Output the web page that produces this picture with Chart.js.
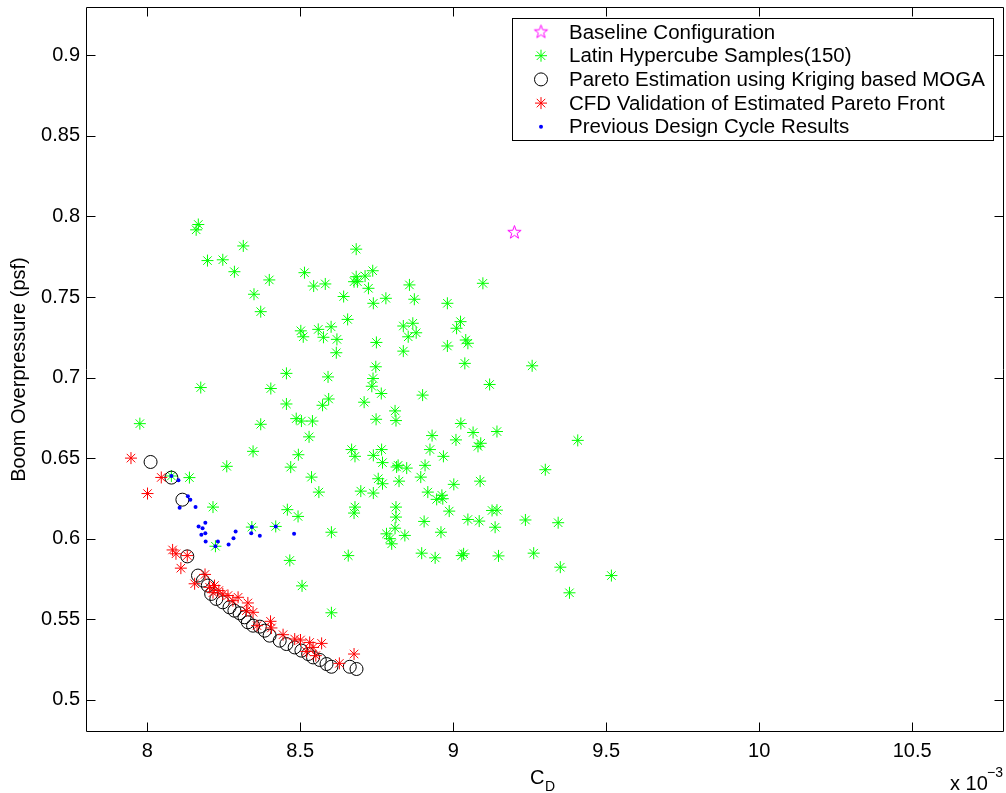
<!DOCTYPE html>
<html>
<head>
<meta charset="utf-8">
<script src="https://cdn.jsdelivr.net/npm/chart.js@4.4.0/dist/chart.umd.min.js"></script>
<style>
  body { margin: 0; background: #fff; }
</style>
</head>
<body>
<canvas id="myChart" width="1006" height="793"></canvas>
<script>
// drag coefficient values are in units of 1e-3 (axis shows "x 10^-3")
const baselineCd = [9.2];
const baselineBoom = [0.79];

const lhsCd = [
  8.167, 8.160, 8.314, 8.197, 8.247, 8.285, 8.399, 8.514, 8.544, 8.582,
  8.642, 8.349, 8.371, 8.655, 8.502, 8.510, 8.559, 8.601, 8.576, 8.620,
  8.618, 8.175, 8.455, 8.404, 8.591, 8.455, 8.593, 8.573, 8.371, 8.487,
  8.504, 8.540, 8.683, 8.683, 8.687, 8.712, 8.737, 8.723, 8.676, 8.739,
  8.780, 8.857, 8.873, 8.981, 9.097, 8.749, 8.837, 8.868, 8.853, 8.879,
  8.837, 9.024, 9.011, 9.041, 9.048, 8.981, 9.038, 8.747, 8.738, 8.734,
  8.765, 8.900, 8.709, 8.810, 8.813, 8.748, 8.529, 9.025, 9.065, 8.931,
  9.009, 9.143, 9.081, 9.090, 8.668, 8.679, 8.739, 8.766, 8.769, 8.815,
  8.820, 8.848, 8.924, 8.968, 8.908, 8.894, 9.088, 9.002, 8.755, 8.769,
  8.823, 8.698, 8.739, 8.917, 8.946, 8.963, 8.966, 8.987, 8.679, 8.676,
  8.813, 8.813, 9.127, 9.143, 9.048, 9.085, 9.236, 8.905, 8.810, 8.782,
  8.793, 8.799, 8.842, 8.960, 9.137, 8.602, 8.897, 8.941, 9.028, 9.034,
  9.148, 8.657, 9.258, 9.119, 9.407, 9.301, 9.343, 9.263, 9.350, 9.517,
  9.380, 7.976, 8.346, 8.494, 8.469, 8.537, 8.561, 8.260, 8.138, 8.215,
  8.342, 8.420, 8.223, 8.458, 8.493, 8.466, 8.506, 8.079, 8.602
];
const lhsBoom = [
  0.795, 0.7917, 0.7817, 0.7726, 0.7731, 0.7657, 0.7606, 0.7651, 0.7568, 0.7581,
  0.7503, 0.7517, 0.7409, 0.7361, 0.729, 0.7253, 0.7299, 0.7315, 0.725, 0.7237,
  0.7154, 0.6938, 0.7026, 0.6932, 0.7004, 0.6836, 0.6867, 0.6828, 0.671, 0.6745,
  0.673, 0.673, 0.7797, 0.7626, 0.7595, 0.763, 0.7663, 0.7554, 0.7595, 0.7461,
  0.7492, 0.7575, 0.7486, 0.7461, 0.7585, 0.7218, 0.732, 0.7337, 0.7253, 0.7278,
  0.7164, 0.7347, 0.7306, 0.7233, 0.7213, 0.7196, 0.7088, 0.7067, 0.6994, 0.6946,
  0.6901, 0.6891, 0.6847, 0.6793, 0.6733, 0.6741, 0.6632, 0.6715, 0.6659, 0.664,
  0.6613, 0.6665, 0.6573, 0.6592, 0.6553, 0.6511, 0.6517, 0.6553, 0.6472, 0.6445,
  0.6455, 0.6438, 0.6553, 0.6511, 0.6455, 0.6382, 0.6357, 0.6337, 0.6372, 0.6341,
  0.6357, 0.6295, 0.6283, 0.6289, 0.6244, 0.6269, 0.6248, 0.6171, 0.6196, 0.6159,
  0.6196, 0.6134, 0.6175, 0.6177, 0.6119, 0.6109, 0.6116, 0.6107, 0.6065, 0.603,
  0.6, 0.5968, 0.602, 0.604, 0.6071, 0.604, 0.591, 0.5881, 0.5895, 0.5906,
  0.5893, 0.5895, 0.7073, 0.6957, 0.661, 0.6428, 0.6099, 0.591, 0.5823, 0.5771,
  0.5664, 0.6714, 0.6542, 0.6521, 0.6444, 0.6382, 0.6289, 0.6449, 0.6379, 0.6196,
  0.6072, 0.6076, 0.5953, 0.618, 0.6138, 0.5865, 0.5707, 0.6389, 0.554
];

const paretoCd = [
  8.011, 8.079, 8.115, 8.131, 8.166, 8.182, 8.198, 8.209, 8.226, 8.247,
  8.269, 8.285, 8.302, 8.318, 8.329, 8.346, 8.368, 8.384, 8.400, 8.433,
  8.455, 8.482, 8.504, 8.526, 8.542, 8.564, 8.586, 8.602, 8.662, 8.684
];
const paretoBoom = [
  0.6476, 0.6379, 0.6242, 0.589, 0.5771, 0.574, 0.5709, 0.5657, 0.5626, 0.5605,
  0.5574, 0.5553, 0.5537, 0.5512, 0.5481, 0.546, 0.5454, 0.5429, 0.5398, 0.5367,
  0.5346, 0.5325, 0.5305, 0.5284, 0.5263, 0.5247, 0.5222, 0.5205, 0.5205, 0.5191
];

const cfdCd = [
  7.947, 8.046, 8.001, 8.083, 8.094, 8.131, 8.110, 8.189, 8.155, 8.204,
  8.220, 8.234, 8.247, 8.264, 8.297, 8.329, 8.324, 8.346, 8.359, 8.403,
  8.406, 8.444, 8.482, 8.501, 8.531, 8.542, 8.520, 8.551, 8.628, 8.676,
  8.215, 8.280, 8.570
];
const cfdBoom = [
  0.650, 0.638, 0.628, 0.593, 0.5906, 0.5895, 0.5817, 0.5778, 0.572, 0.5698,
  0.5709, 0.5678, 0.5657, 0.5647, 0.5636, 0.5601, 0.5553, 0.5543, 0.546, 0.5487,
  0.5446, 0.5404, 0.5377, 0.5371, 0.5356, 0.5325, 0.530, 0.5274, 0.5226, 0.5284,
  0.5665, 0.5615, 0.535
];

const prevCd = [
  8.079, 8.102, 8.133, 8.141, 8.106, 8.158, 8.190, 8.168, 8.181, 8.190,
  8.177, 8.191, 8.231, 8.223, 8.266, 8.282, 8.289, 8.342, 8.340, 8.368,
  8.420, 8.480
];
const prevBoom = [
  0.6389, 0.6362, 0.6264, 0.6242, 0.6192, 0.6196, 0.6099, 0.6076, 0.6065, 0.6034,
  0.6024, 0.5982, 0.5982, 0.5953, 0.5964, 0.6003, 0.6045, 0.6072, 0.6034, 0.6018,
  0.6076, 0.603
];

const xTicks = [8, 8.5, 9, 9.5, 10, 10.5];
const xTickLabels = ['8', '8.5', '9', '9.5', '10', '10.5'];
const yTicks = [0.5, 0.55, 0.6, 0.65, 0.7, 0.75, 0.8, 0.85, 0.9];
const yTickLabels = ['0.5', '0.55', '0.6', '0.65', '0.7', '0.75', '0.8', '0.85', '0.9'];

const seriesNames = [
  'Baseline Configuration',
  'Latin Hypercube Samples(150)',
  'Pareto Estimation using Kriging based MOGA',
  'CFD Validation of Estimated Pareto Front',
  'Previous Design Cycle Results'
];

const FONT = '"Liberation Sans", Arial, Helvetica, sans-serif';

function pts(xs, ys) {
  return xs.map((v, i) => ({ x: v, y: ys[i] }));
}

// MATLAB-like outlined pentagram marker
function makePentagram(r, color) {
  const s = Math.ceil(r * 2 + 3);
  const c = document.createElement('canvas');
  c.width = s; c.height = s;
  const g = c.getContext('2d');
  g.strokeStyle = color;
  g.lineWidth = 1;
  g.beginPath();
  for (let i = 0; i < 10; i++) {
    const a = -Math.PI / 2 + i * Math.PI / 5;
    const rr = i % 2 === 0 ? r : r * 0.4;
    const px = s / 2 + rr * Math.cos(a), py = s / 2 + rr * Math.sin(a);
    if (i === 0) g.moveTo(px, py); else g.lineTo(px, py);
  }
  g.closePath();
  g.stroke();
  return c;
}
const pentagram = makePentagram(7, '#ff00ff');

const markers = [
  { style: pentagram, color: '#ff00ff', radius: 7 },
  { style: 'star', color: '#00ff00', radius: 6 },
  { style: 'circle', color: '#000000', radius: 6.5 },
  { style: 'star', color: '#ff0000', radius: 6 },
  { style: 'dot', color: '#0000ff', radius: 2 }
];

function drawMarker(ctx, m, x, y) {
  ctx.save();
  ctx.strokeStyle = m.color;
  ctx.fillStyle = m.color;
  ctx.lineWidth = 1;
  if (m.style === 'star') {
    const r = m.radius, d = r * Math.SQRT1_2;
    ctx.beginPath();
    ctx.moveTo(x - r, y); ctx.lineTo(x + r, y);
    ctx.moveTo(x, y - r); ctx.lineTo(x, y + r);
    ctx.moveTo(x - d, y - d); ctx.lineTo(x + d, y + d);
    ctx.moveTo(x - d, y + d); ctx.lineTo(x + d, y - d);
    ctx.stroke();
  } else if (m.style === 'circle') {
    ctx.beginPath();
    ctx.arc(x, y, m.radius, 0, Math.PI * 2);
    ctx.stroke();
  } else if (m.style === 'dot') {
    ctx.beginPath();
    ctx.arc(x, y, m.radius, 0, Math.PI * 2);
    ctx.fill();
  } else {
    ctx.drawImage(m.style, x - m.style.width / 2, y - m.style.height / 2);
  }
  ctx.restore();
}

// box, inward ticks on all four sides, axis titles, exponent and legend
const matlabFrame = {
  id: 'matlabFrame',
  afterDraw(chart) {
    const { ctx, chartArea: a, scales } = chart;
    const L = a.left + 0.5, R = a.right - 0.5, T = a.top + 0.5, B = a.bottom - 0.5;
    ctx.save();
    ctx.strokeStyle = '#000';
    ctx.lineWidth = 1;
    ctx.beginPath();
    ctx.rect(L, T, R - L, B - T);
    xTicks.forEach(v => {
      const px = Math.round(scales.x.getPixelForValue(v)) + 0.5;
      ctx.moveTo(px, B); ctx.lineTo(px, B - 9);
      ctx.moveTo(px, T); ctx.lineTo(px, T + 9);
    });
    yTicks.forEach(v => {
      const py = Math.round(scales.y.getPixelForValue(v)) + 0.5;
      ctx.moveTo(L, py); ctx.lineTo(L + 9, py);
      ctx.moveTo(R, py); ctx.lineTo(R - 9, py);
    });
    ctx.stroke();

    ctx.fillStyle = '#000';
    // y title
    ctx.save();
    ctx.translate(19, (a.top + a.bottom) / 2);
    ctx.rotate(-Math.PI / 2);
    ctx.font = '20px ' + FONT;
    ctx.textAlign = 'center';
    ctx.textBaseline = 'middle';
    ctx.fillText('Boom Overpressure (psf)', 0, 0);
    ctx.restore();

    // x title C_D
    ctx.textAlign = 'left';
    ctx.textBaseline = 'alphabetic';
    ctx.font = '20px ' + FONT;
    ctx.fillText('C', 530, 784);
    ctx.font = '14px ' + FONT;
    ctx.fillText('D', 545, 791);

    // exponent label
    ctx.font = '20px ' + FONT;
    ctx.fillText('x 10', 950, 790);
    ctx.font = '14px ' + FONT;
    ctx.fillText('\u22123', 987, 777);

    // legend
    const lx = 512.5, ly = 18.5, lw = 481, lh = 122;
    ctx.fillStyle = '#fff';
    ctx.fillRect(lx, ly, lw, lh);
    ctx.strokeRect(lx, ly, lw, lh);
    ctx.font = '20.5px ' + FONT;
    ctx.textBaseline = 'middle';
    seriesNames.forEach((name, i) => {
      const y = 32 + i * 23.7;
      drawMarker(ctx, markers[i], 541, y);
      ctx.fillStyle = '#000';
      ctx.fillText(name, 569, y + 1);
    });
    ctx.restore();
  }
};

const ctx = document.getElementById('myChart').getContext('2d');
const myChart = new Chart(ctx, {
  type: 'scatter',
  data: {
    datasets: [
      {
        label: seriesNames[4],
        data: pts(prevCd, prevBoom),
        pointStyle: 'circle',
        pointRadius: 2,
        backgroundColor: '#0000ff',
        borderColor: '#0000ff',
        borderWidth: 0,
        order: 1
      },
      {
        label: seriesNames[3],
        data: pts(cfdCd, cfdBoom),
        pointStyle: 'star',
        pointRadius: 6,
        borderColor: '#ff0000',
        borderWidth: 1,
        order: 2
      },
      {
        label: seriesNames[2],
        data: pts(paretoCd, paretoBoom),
        pointStyle: 'circle',
        pointRadius: 6.5,
        backgroundColor: 'rgba(0,0,0,0)',
        borderColor: '#000000',
        borderWidth: 1,
        order: 3
      },
      {
        label: seriesNames[1],
        data: pts(lhsCd, lhsBoom),
        pointStyle: 'star',
        pointRadius: 6,
        borderColor: '#00ff00',
        borderWidth: 1,
        order: 4
      },
      {
        label: seriesNames[0],
        data: pts(baselineCd, baselineBoom),
        pointStyle: pentagram,
        pointRadius: 7,
        borderColor: '#ff00ff',
        order: 5
      }
    ]
  },
  options: {
    responsive: false,
    animation: false,
    events: [],
    // autoPadding would reserve room for marker overflow and shrink the axes box
    layout: { autoPadding: false, padding: { top: 7, right: 2, left: 0, bottom: 0 } },
    plugins: {
      legend: { display: false },
      tooltip: { enabled: false }
    },
    scales: {
      x: {
        type: 'linear',
        min: 7.8,
        max: 10.8,
        afterBuildTicks: scale => { scale.ticks = xTicks.map(v => ({ value: v })); },
        afterFit: scale => {
          scale.height = 61;
          scale.paddingLeft = 0;
          scale.paddingRight = 0;
        },
        grid: { display: false, drawTicks: false },
        border: { display: false },
        ticks: {
          color: '#000',
          font: { size: 20, family: FONT },
          padding: 7,
          maxRotation: 0,
          autoSkip: false,
          callback: v => xTickLabels[xTicks.indexOf(v)]
        }
      },
      y: {
        type: 'linear',
        min: 0.48,
        max: 0.93,
        afterBuildTicks: scale => { scale.ticks = yTicks.map(v => ({ value: v })); },
        afterFit: scale => {
          scale.width = 86;
          scale.paddingTop = 0;
          scale.paddingBottom = 0;
        },
        grid: { display: false, drawTicks: false },
        border: { display: false },
        ticks: {
          color: '#000',
          font: { size: 20, family: FONT },
          padding: 6,
          autoSkip: false,
          callback: v => yTickLabels[yTicks.indexOf(v)]
        }
      }
    }
  },
  plugins: [matlabFrame]
});
</script>
</body>
</html>
